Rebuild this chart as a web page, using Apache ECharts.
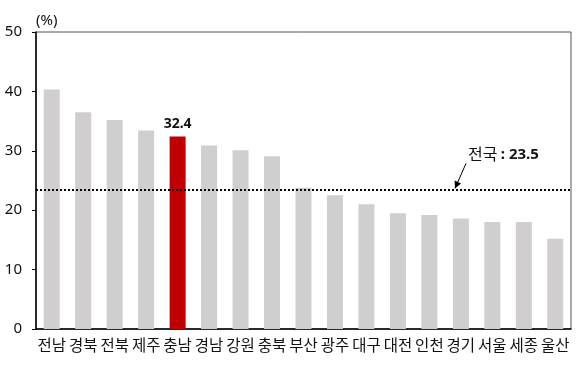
<!DOCTYPE html>
<html><head><meta charset="utf-8">
<script src="https://cdn.jsdelivr.net/npm/echarts@6/dist/echarts.min.js"></script>
<style>html,body{margin:0;padding:0;background:#fff}#c{width:584px;height:369px}</style>
</head><body><div id="c"></div>
<script>
const categories = ['전남','경북','전북','제주','충남','경남','강원','충북','부산','광주','대구','대전','인천','경기','서울','세종','울산'];
const values = [40.3, 36.5, 35.2, 33.4, 32.4, 30.9, 30.1, 29.1, 23.8, 22.5, 21.0, 19.5, 19.2, 18.6, 18.0, 18.0, 15.2];
const highlight = '충남';
const nationalAvg = 23.5;
const yTicks = [0, 10, 20, 30, 40, 50];

const chart = echarts.init(document.getElementById('c'));
const numFont = '"Noto Sans", "Liberation Sans", sans-serif';
const krFont = '"Noto Sans CJK KR", sans-serif';
chart.setOption({
  animation: false,
  grid: {left: 36, right: 13, top: 32, bottom: 40, show: true, borderColor: '#555', borderWidth: 1},
  xAxis: {
    type: 'category', data: categories,
    axisLine: {lineStyle: {color: '#000', width: 1.5}},
    axisTick: {show: false},
    axisLabel: {color: '#111', fontSize: 15.5, fontFamily: krFont, margin: 8, interval: 0, hideOverlap: false}
  },
  yAxis: {
    type: 'value', min: yTicks[0], max: yTicks[yTicks.length-1], interval: 10,
    name: '(%)', nameLocation: 'end', nameGap: 4,
    nameTextStyle: {fontSize: 15, fontFamily: numFont, color: '#111', align: 'left', padding: [0,0,0,0]},
    axisLine: {show: true, lineStyle: {color: '#000', width: 1.5}},
    axisTick: {show: true, length: 4, lineStyle: {color: '#000'}},
    splitLine: {show: false},
    axisLabel: {color: '#111', fontSize: 15, fontFamily: numFont, margin: 14}
  },
  series: [{
    type: 'bar', barWidth: 16,
    data: values.map((v, i) => ({
      value: v,
      itemStyle: {color: categories[i] === highlight ? '#c00000' : '#d0cece'},
      label: categories[i] === highlight ? {show: true, position: 'top', distance: 6, color: '#111', fontWeight: 'bold', fontSize: 14, fontFamily: numFont, formatter: '{c}'} : {show: false}
    })),
    markLine: {
      silent: true, symbol: ['none', 'none'],
      lineStyle: {type: [2, 2], color: '#000', width: 2},
      label: {show: false},
      data: [{yAxis: nationalAvg}]
    }
  }]
});

// annotation for national average
const yLine = chart.convertToPixel({yAxisIndex: 0}, nationalAvg);
const ax = 455, ay = yLine - 1, bx = 466, by = yLine - 26;
const ang = Math.atan2(ay - by, ax - bx);
const hl = 7, hw = 3.5;
const p1 = [ax - hl*Math.cos(ang) + hw*Math.sin(ang), ay - hl*Math.sin(ang) - hw*Math.cos(ang)];
const p2 = [ax - hl*Math.cos(ang) - hw*Math.sin(ang), ay - hl*Math.sin(ang) + hw*Math.cos(ang)];
chart.setOption({
  graphic: [
    {type: 'line', shape: {x1: bx, y1: by, x2: ax, y2: ay}, style: {stroke: '#000', lineWidth: 1}},
    {type: 'polygon', shape: {points: [[ax, ay], p1, p2]}, style: {fill: '#000'}},
    {type: 'text', x: 468, y: yLine - 35, style: {
      rich: {a: {fontFamily: krFont, fontSize: 16, fill: '#111'}, b: {fontFamily: numFont, fontSize: 15, fontWeight: 'bold', fill: '#111'}},
      text: '{a|전국} {b|: ' + nationalAvg + '}', textVerticalAlign: 'middle'
    }}
  ]
});
</script></body></html>
